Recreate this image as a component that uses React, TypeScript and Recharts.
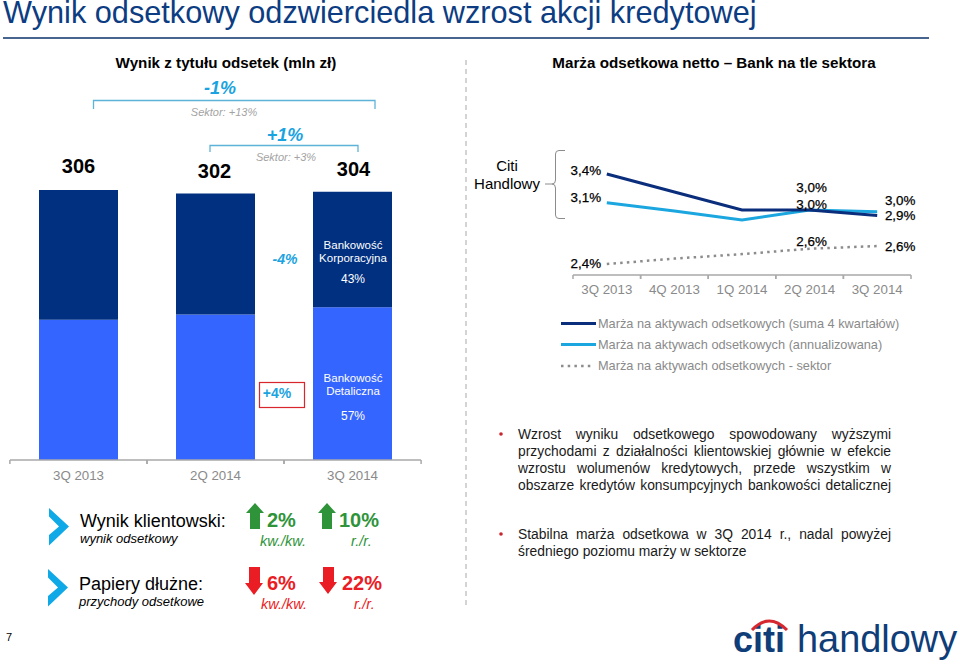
import React from "react";
import { BarChart, Bar, LineChart, Line, XAxis, YAxis, LabelList } from "recharts";

const FONT = '"Liberation Sans", Arial, sans-serif';

// Left panel: interest income
const barCategories = ["3Q 2013", "2Q 2014", "3Q 2014"];
const corporateValues = [147, 137, 131];
const retailValues = [159, 165, 173];
const totalLabels = ["306", "302", "304"];

// Right panel: net interest margin
const lineCategories = ["3Q 2013", "4Q 2013", "1Q 2014", "2Q 2014", "3Q 2014"];
const marginSum4Q = [3.4, 3.2, 3.0, 3.0, 2.94];
const marginAnnualized = [3.08, 2.99, 2.89, 3.0, 2.98];
const marginSector = [2.4, 2.46, 2.51, 2.57, 2.6];
const seriesNames = [
  "Marża na aktywach odsetkowych (suma 4 kwartałów)",
  "Marża na aktywach odsetkowych (annualizowana)",
  "Marża na aktywach odsetkowych - sektor",
];

const C_DARK = "#00307f";
const C_RETAIL = "#3565ff";
const C_LINE_DARK = "#0b2e7c";
const C_LINE_LIGHT = "#1ba6e0";
const C_DOT = "#8c8c8c";
const C_GREY = "#8a8a8a";
const C_CYAN = "#1aa3e0";
const C_GREEN = "#2f9439";
const C_RED = "#ea1c24";

const barData = barCategories.map((name, i) => ({
  name,
  corporate: corporateValues[i],
  retail: retailValues[i],
  total: totalLabels[i],
}));
const lineData = lineCategories.map((name, i) => ({
  name,
  sum4q: marginSum4Q[i],
  annual: marginAnnualized[i],
  sector: marginSector[i],
}));

function boundaryTick(step: number, dy: number) {
  return (p: any) => (
    <g>
      <line x1={p.x - step / 2} x2={p.x - step / 2} y1={p.axisY} y2={p.axisY + 4} stroke="#a9a9a9" strokeWidth={1.5} />
      <line x1={p.x + step / 2} x2={p.x + step / 2} y1={p.axisY} y2={p.axisY + 4} stroke="#a9a9a9" strokeWidth={1.5} />
      <text x={p.x} y={p.axisY + dy} textAnchor="middle" fontSize={13.3} fill={C_GREY} fontFamily={FONT}>
        {p.payload.value}
      </text>
    </g>
  );
}

function barTick(p: any) {
  return boundaryTick(137.2, 20)({ ...p, axisY: 460 });
}
function lineTick(p: any) {
  return boundaryTick(67.6, 19)({ ...p, axisY: 275 });
}

const barTotalOffsets = [
  [0, -17],
  [-1, -16],
  [1, -16],
];
function totalLabel(p: any) {
  const i = p.index as number;
  return (
    <text
      x={p.x + p.width / 2 + barTotalOffsets[i][0]}
      y={p.y + barTotalOffsets[i][1]}
      textAnchor="middle"
      fontSize={20}
      fontWeight={700}
      fill="#000"
      fontFamily={FONT}
      stroke="none"
    >
      {totalLabels[i]}
    </text>
  );
}

function marginLabel(offsets: (number[] | null)[]) {
  return (p: any) => {
    const off = offsets[p.index];
    if (!off) return null;
    return (
      <text
        x={p.x + off[0]}
        y={p.y + off[1]}
        textAnchor="middle"
        fontSize={13.4}
        fill="#000"
        stroke="#000"
        strokeWidth={0.25}
        fontFamily={FONT}
      >
        {Number(p.value).toFixed(1).replace(".", ",") + "%"}
      </text>
    );
  };
}
const sumLabelOffsets = [[-21, 1], null, null, [2, -18], [23, 5]];
const annualLabelOffsets = [[-21, -1], null, null, [2, -1], [23, -7]];
const sectorLabelOffsets = [[-21, 4], null, null, [2, -3], [23, 5]];

function Txt(p: any) {
  const { x, y, size, fill = "#000", anchor = "start", bold, italic, children, sw } = p;
  return (
    <text
      x={x}
      y={y}
      fontSize={size}
      fill={fill}
      textAnchor={anchor}
      fontWeight={bold ? 700 : 400}
      fontStyle={italic ? "italic" : "normal"}
      fontFamily={FONT}
      stroke={sw ? fill : "none"}
      strokeWidth={sw || 0}
    >
      {children}
    </text>
  );
}

function Chevron({ x, y }: { x: number; y: number }) {
  return (
    <polygon
      points={`${x},${y} ${x + 20},${y + 18.5} ${x},${y + 37.5} ${x},${y + 27} ${x + 10},${y + 18.5} ${x},${y + 8.5}`}
      fill="#10a9e8"
    />
  );
}
function ArrowUp({ x, y, h, fill }: any) {
  return (
    <polygon
      points={`${x + 9},${y} ${x + 18},${y + 10} ${x + 14},${y + 10} ${x + 14},${y + h} ${x + 4},${y + h} ${x + 4},${y + 10} ${x},${y + 10}`}
      fill={fill}
    />
  );
}
function ArrowDown({ x, y, h, fill }: any) {
  return (
    <polygon
      points={`${x + 4},${y} ${x + 15},${y} ${x + 15},${y + h - 12} ${x + 18},${y + h - 12} ${x + 9},${y + h} ${x},${y + h - 12} ${x + 4},${y + h - 12}`}
      fill={fill}
    />
  );
}

const bulletOne = [
  "Wzrost wyniku odsetkowego spowodowany wyższymi",
  "przychodami z działalności klientowskiej głównie w efekcie",
  "wzrostu wolumenów kredytowych, przede wszystkim w",
  "obszarze kredytów konsumpcyjnych bankowości detalicznej",
];
const bulletTwo = ["Stabilna marża odsetkowa w 3Q 2014 r., nadal powyżej", "średniego poziomu marży w sektorze"];

function Para({ lines, top }: { lines: string[]; top: number }) {
  return (
    <div
      style={{
        position: "absolute",
        left: 518,
        top,
        width: 373,
        fontFamily: FONT,
        fontSize: 13.85,
        lineHeight: "17px",
        color: "#1a1a1a",
      }}
    >
      {lines.map((l, i) => (
        <div
          key={i}
          style={{
            textAlign: "justify",
            textAlignLast: i === lines.length - 1 && lines.length === 2 ? "left" : "justify",
          }}
        >
          {l}
        </div>
      ))}
    </div>
  );
}

export default function App() {
  return (
    <div
      style={{
        position: "absolute",
        left: 0,
        top: 0,
        width: 959,
        height: 664,
        background: "#fff",
        overflow: "hidden",
        fontFamily: FONT,
      }}
    >
      <div style={{ position: "absolute", left: 0, top: 0 }}>
        <BarChart
          width={431}
          height={500}
          data={barData}
          margin={{ top: 160, left: 10, right: 10, bottom: 10 }}
          barCategoryGap={0}
        >
          <XAxis
            dataKey="name"
            height={30}
            stroke="#a9a9a9"
            strokeWidth={1.5}
            tickLine={false}
            interval={0}
            tick={barTick}
          />
          <YAxis hide domain={[0, 340]} />
          <Bar dataKey="retail" stackId="a" fill={C_RETAIL} barSize={79} isAnimationActive={false} />
          <Bar dataKey="corporate" stackId="a" fill={C_DARK} barSize={79} isAnimationActive={false}>
            <LabelList dataKey="total" content={totalLabel} />
          </Bar>
        </BarChart>
      </div>

      <div style={{ position: "absolute", left: 473, top: 0 }}>
        <LineChart
          width={450}
          height={305}
          data={lineData}
          margin={{ top: 150, left: 100, right: 12, bottom: 0 }}
        >
          <XAxis
            dataKey="name"
            scale="band"
            height={30}
            stroke="#a9a9a9"
            strokeWidth={1.5}
            tickLine={false}
            interval={0}
            tick={lineTick}
          />
          <YAxis hide domain={[2.278, 3.667]} />
          <Line
            dataKey="sector"
            stroke={C_DOT}
            strokeWidth={2.5}
            strokeDasharray="2.5 4.2"
            dot={false}
            isAnimationActive={false}
          >
            <LabelList dataKey="sector" content={marginLabel(sectorLabelOffsets)} />
          </Line>
          <Line dataKey="annual" stroke={C_LINE_LIGHT} strokeWidth={3} dot={false} isAnimationActive={false}>
            <LabelList dataKey="annual" content={marginLabel(annualLabelOffsets)} />
          </Line>
          <Line dataKey="sum4q" stroke={C_LINE_DARK} strokeWidth={3} dot={false} isAnimationActive={false}>
            <LabelList dataKey="sum4q" content={marginLabel(sumLabelOffsets)} />
          </Line>
        </LineChart>
      </div>

      <svg width={959} height={664} style={{ position: "absolute", left: 0, top: 0, pointerEvents: "none" }}>
        {/* Title */}
        <Txt x={3} y={23} size={30.7} fill="#0c3c82">
          Wynik odsetkowy odzwierciedla wzrost akcji kredytowej
        </Txt>
        <rect x={3} y={37} width={926} height={2} fill="#47658f" />
        <line x1={466} x2={466} y1={60} y2={606} stroke="#a8a8a8" strokeWidth={1} strokeDasharray="5 4" />

        {/* Left header */}
        <Txt x={226} y={68} size={15.2} bold anchor="middle">
          Wynik z tytułu odsetek (mln zł)
        </Txt>
        <Txt x={220} y={94} size={18} bold italic fill={C_CYAN} anchor="middle">
          -1%
        </Txt>
        <path d="M93.5 109V100.5H375V109" fill="none" stroke="#5db4d8" strokeWidth={1.3} />
        <Txt x={224} y={116} size={11} italic fill="#a3a3a3" anchor="middle">
          Sektor: +13%
        </Txt>
        <Txt x={285} y={141} size={18} bold italic fill={C_CYAN} anchor="middle">
          +1%
        </Txt>
        <path d="M210 152V145.5H358V152" fill="none" stroke="#5db4d8" strokeWidth={1.3} />
        <Txt x={286} y={161} size={11} italic fill="#a3a3a3" anchor="middle">
          Sektor: +3%
        </Txt>

        {/* Bar annotations */}
        <Txt x={285} y={264} size={14} bold italic fill={C_CYAN} anchor="middle">
          -4%
        </Txt>
        <rect x={259.5} y={382.5} width={45} height={25} fill="none" stroke="#d8262c" strokeWidth={1.2} />
        <Txt x={277} y={398} size={14} bold fill={C_CYAN} anchor="middle">
          +4%
        </Txt>
        <Txt x={353} y={249} size={11.5} fill="#fff" anchor="middle">Bankowość</Txt>
        <Txt x={353} y={262} size={11.5} fill="#fff" anchor="middle">Korporacyjna</Txt>
        <Txt x={353} y={283} size={12} fill="#fff" anchor="middle">43%</Txt>
        <Txt x={353} y={382} size={11.5} fill="#fff" anchor="middle">Bankowość</Txt>
        <Txt x={353} y={395} size={11.5} fill="#fff" anchor="middle">Detaliczna</Txt>
        <Txt x={353} y={420} size={12} fill="#fff" anchor="middle">57%</Txt>

        {/* Right header */}
        <Txt x={714} y={68} size={15.2} bold anchor="middle">
          Marża odsetkowa netto – Bank na tle sektora
        </Txt>
        <Txt x={507} y={171} size={15} anchor="middle">Citi</Txt>
        <Txt x={507} y={189} size={15} anchor="middle">Handlowy</Txt>
        <path
          d="M565 150.5H559Q555.5 150.5 555.5 154V180Q555.5 184 552 184H545M552 184Q555.5 184 555.5 188V215Q555.5 218.5 559 218.5H565"
          fill="none"
          stroke="#8c8c8c"
          strokeWidth={1}
        />

        {/* Legend */}
        <line x1={561} x2={596} y1={323.5} y2={323.5} stroke={C_LINE_DARK} strokeWidth={3} />
        <line x1={561} x2={596} y1={344.5} y2={344.5} stroke={C_LINE_LIGHT} strokeWidth={3} />
        <line x1={561} x2={593} y1={366} y2={366} stroke={C_DOT} strokeWidth={2.5} strokeDasharray="2.5 4.2" />
        <Txt x={598} y={328} size={12.75} fill={C_GREY}>{seriesNames[0]}</Txt>
        <Txt x={598} y={349} size={12.75} fill={C_GREY}>{seriesNames[1]}</Txt>
        <Txt x={598} y={370} size={12.75} fill={C_GREY}>{seriesNames[2]}</Txt>

        {/* KPI rows */}
        <Chevron x={49} y={508} />
        <Txt x={80} y={527} size={18}>Wynik klientowski:</Txt>
        <Txt x={80} y={543} size={13} italic>wynik odsetkowy</Txt>
        <ArrowUp x={246} y={503} h={26} fill={C_GREEN} />
        <Txt x={267} y={527} size={20} bold fill={C_GREEN}>2%</Txt>
        <Txt x={260} y={546} size={14.5} italic fill={C_GREEN}>kw./kw.</Txt>
        <ArrowUp x={318} y={503} h={26} fill={C_GREEN} />
        <Txt x={339} y={527} size={20} bold fill={C_GREEN}>10%</Txt>
        <Txt x={351} y={546} size={14.5} italic fill={C_GREEN}>r./r.</Txt>

        <Chevron x={48} y={569} />
        <Txt x={79} y={590} size={18}>Papiery dłużne:</Txt>
        <Txt x={79} y={606} size={13} italic>przychody odsetkowe</Txt>
        <ArrowDown x={245} y={567} h={28} fill={C_RED} />
        <Txt x={267} y={590} size={20} bold fill={C_RED}>6%</Txt>
        <Txt x={261} y={609} size={14.5} italic fill={C_RED}>kw./kw.</Txt>
        <ArrowDown x={319} y={567} h={27} fill={C_RED} />
        <Txt x={342} y={590} size={20} bold fill={C_RED}>22%</Txt>
        <Txt x={354} y={609} size={14.5} italic fill={C_RED}>r./r.</Txt>

        {/* Bullets */}
        <circle cx={501} cy={434} r={1.8} fill="#c9252c" />
        <circle cx={501} cy={534} r={1.8} fill="#c9252c" />

        {/* Footer */}
        <Txt x={6} y={641} size={11}>7</Txt>
        <Txt x={733} y={652} size={36} bold fill="#0f3d78">citi</Txt>
        <path d="M752 630Q769 612 787 630" fill="none" stroke="#d7282f" strokeWidth={3} />
        <Txt x={797} y={652} size={37.9} fill="#0f3d78">handlowy</Txt>
      </svg>

      <Para lines={bulletOne} top={426} />
      <Para lines={bulletTwo} top={526} />
    </div>
  );
}
